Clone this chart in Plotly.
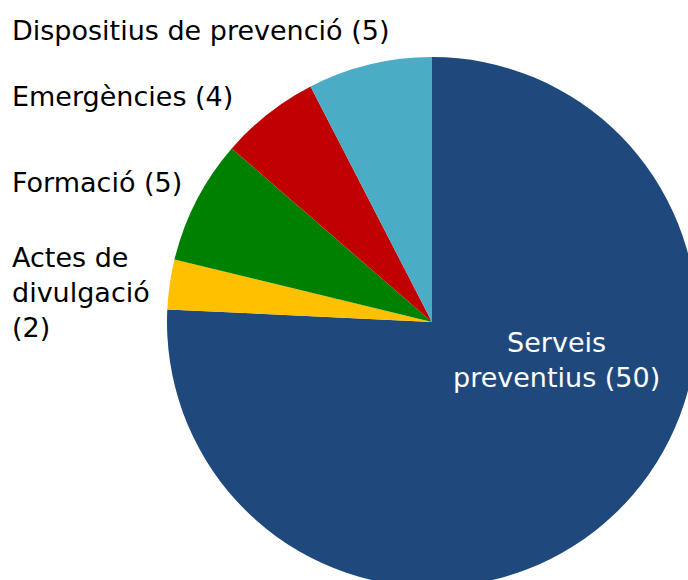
import plotly.graph_objects as go

categories = ["Serveis preventius", "Actes de divulgació", "Formació", "Emergències", "Dispositius de prevenció"]
values = [50, 2, 5, 4, 5]
colors = ["#1F497D", "#FFC000", "#008000", "#C00000", "#4BACC6"]

W, H = 700, 600
cx, cy, r = 432, 322, 265

fig = go.Figure(go.Pie(
    labels=categories,
    values=values,
    sort=False,
    direction="clockwise",
    rotation=0,
    marker=dict(colors=colors, line=dict(width=0)),
    textinfo="none",
    hoverinfo="label+value",
    showlegend=False,
    domain=dict(x=[(cx - r) / W, (cx + r) / W], y=[(H - cy - r) / H, (H - cy + r) / H]),
))

FONT = "DejaVu Sans, Verdana, sans-serif"
FS = 27

# outside labels (left column), text built from the data
left_labels = [
    (f"{categories[4]} ({values[4]})", 31),
    (f"{categories[3]} ({values[3]})", 96),
    (f"{categories[2]} ({values[2]})", 182),
    ("Actes de<br>divulgació<br>(%d)" % values[1], 292),
]
for txt, ypx in left_labels:
    fig.add_annotation(
        x=10 / W, y=1 - ypx / H, xref="paper", yref="paper",
        xanchor="left", yanchor="middle", align="left",
        text=txt, showarrow=False,
        font=dict(family=FONT, size=FS, color="#000000"),
    )

fig.add_annotation(
    x=556 / W, y=1 - 360 / H, xref="paper", yref="paper",
    xanchor="center", yanchor="middle", align="center",
    text="Serveis<br>preventius (%d)" % values[0], showarrow=False,
    font=dict(family=FONT, size=FS, color="#FFFFFF"),
)

fig.update_layout(
    width=W, height=H,
    margin=dict(l=0, r=0, t=0, b=0),
    paper_bgcolor="#FFFFFF",
    plot_bgcolor="#FFFFFF",
)

fig.write_html(
    "out.html",
    config={"displayModeBar": False},
    post_script="document.body.style.margin='0';document.body.style.overflow='hidden';document.documentElement.style.overflow='hidden';",
)
